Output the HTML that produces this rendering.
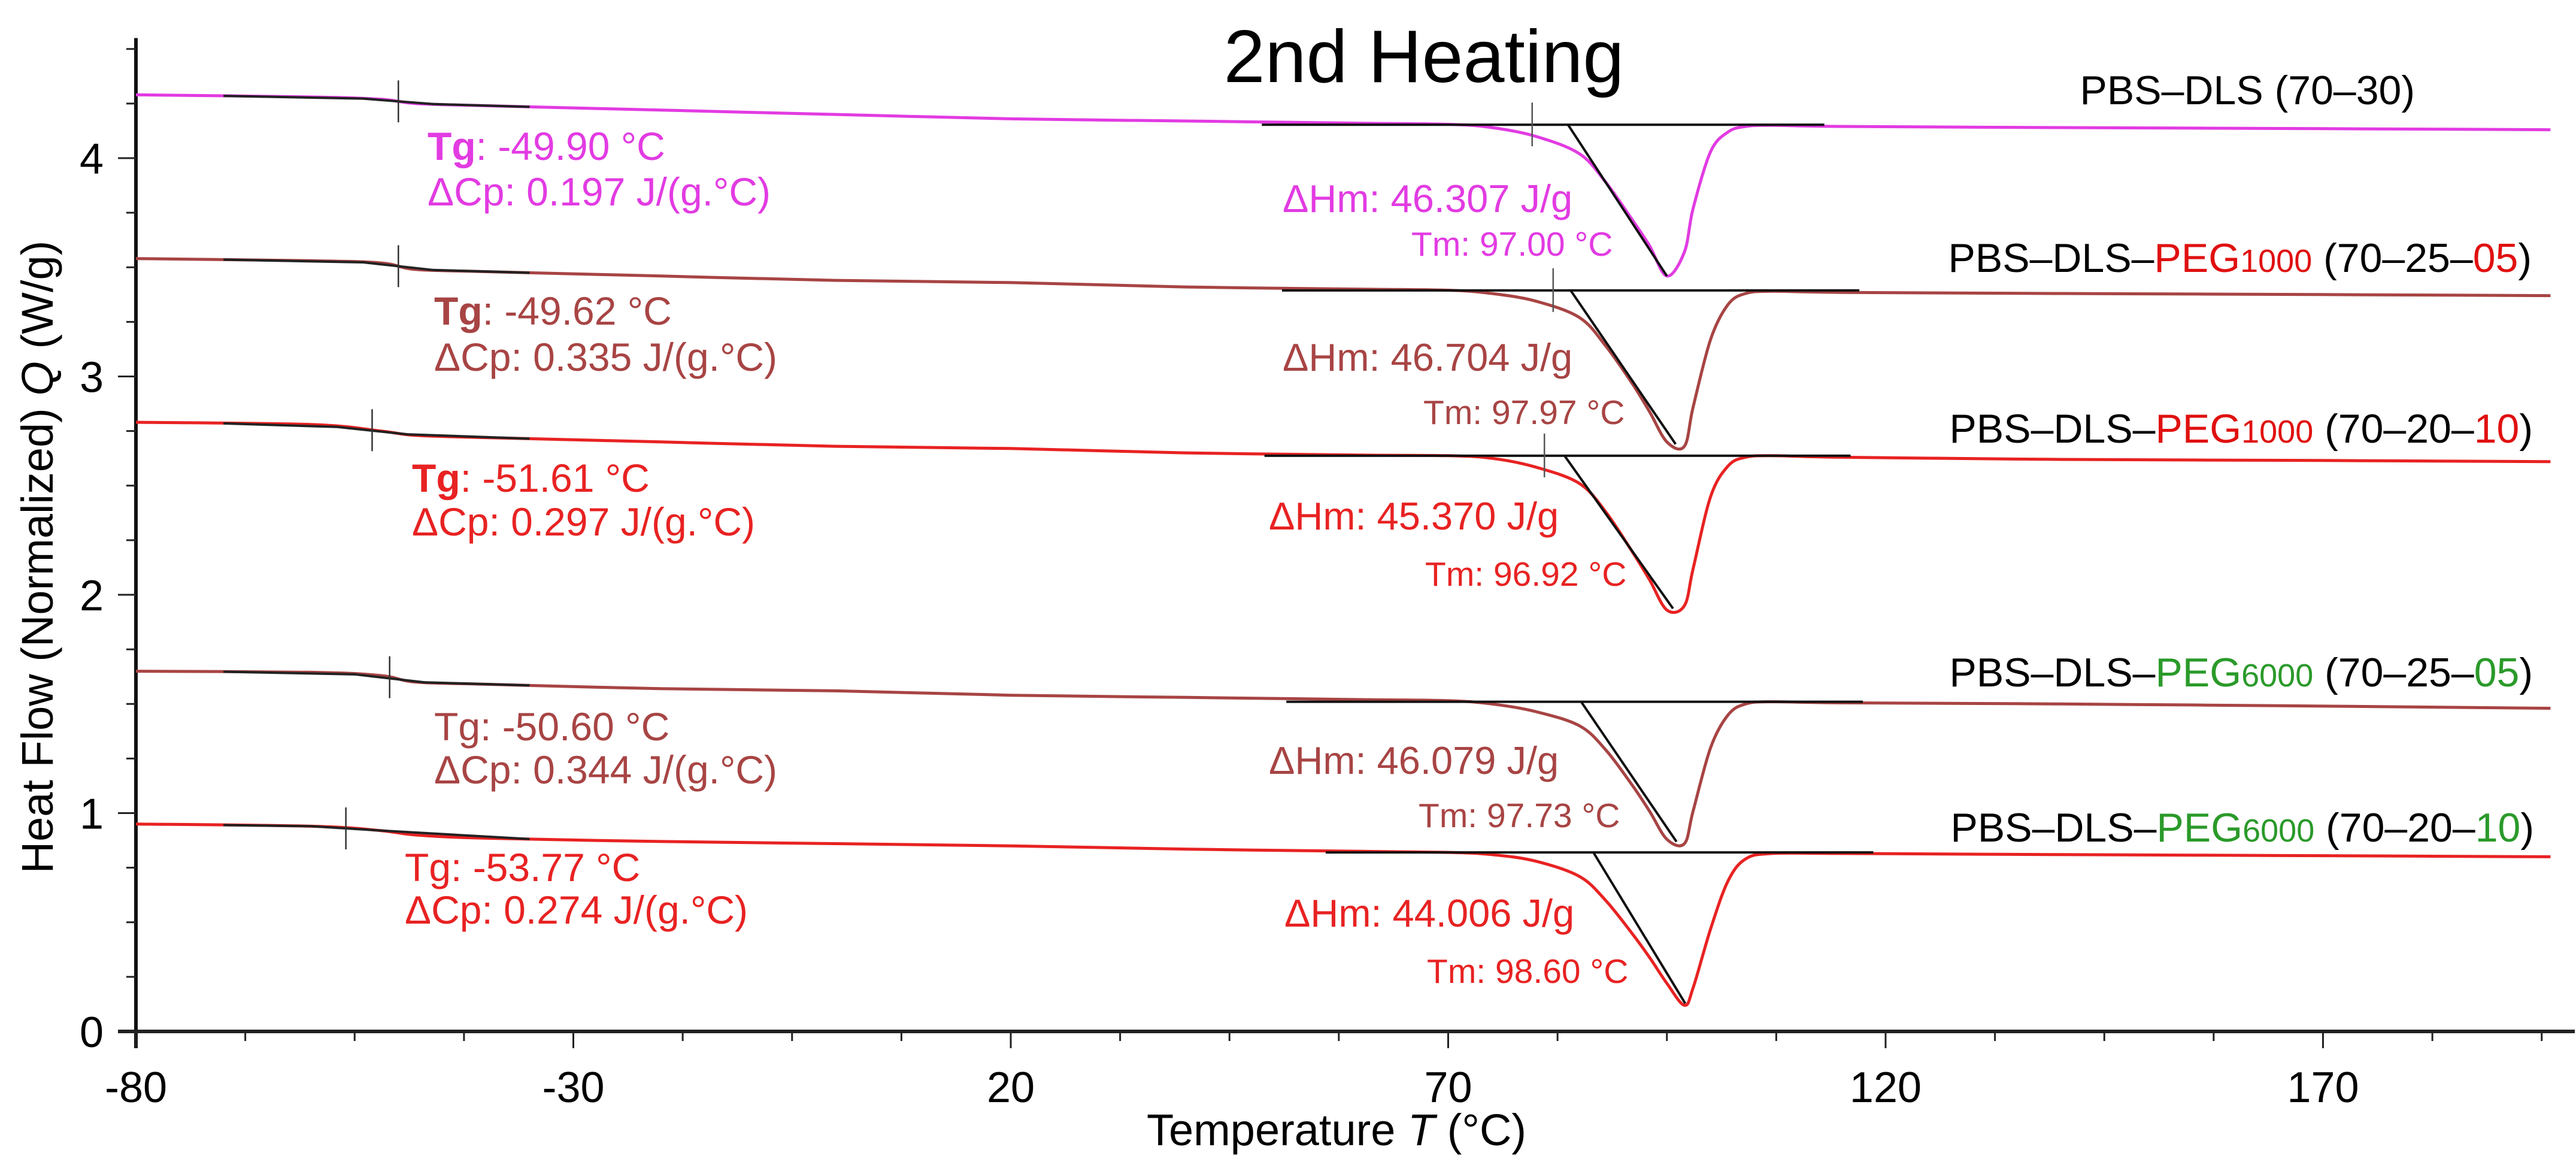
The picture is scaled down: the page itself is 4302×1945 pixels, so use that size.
<!DOCTYPE html>
<html><head><meta charset="utf-8"><style>
html,body{margin:0;padding:0;background:#fff;}
svg{display:block;font-family:"Liberation Sans",Arial,sans-serif;}
</style></head><body>
<svg id="chart" width="4302" height="1945" viewBox="0 0 4302 1945" xmlns="http://www.w3.org/2000/svg">
<text x="2378" y="137" font-size="124" text-anchor="middle">2nd Heating</text>
<g id="axes"></g>
<g id="curves"></g>
<g id="annots"></g>
<text x="1915" y="1912" font-size="74">Temperature <tspan font-style="italic">T</tspan> (°C)</text>
<text transform="translate(88,930) rotate(-90)" font-size="74" text-anchor="middle">Heat Flow (Normalized)  <tspan font-style="italic">Q</tspan>  (W/g)</text>
<g font-size="68">
<text x="4033" y="174" text-anchor="end">PBS–DLS (70–30)</text>
<text x="4228" y="454" text-anchor="end">PBS–DLS–<tspan fill="#e01010">PEG<tspan font-size="54">1000</tspan></tspan> (70–25–<tspan fill="#e01010">05</tspan>)</text>
<text x="4230" y="739" text-anchor="end">PBS–DLS–<tspan fill="#e01010">PEG<tspan font-size="54">1000</tspan></tspan> (70–20–<tspan fill="#e01010">10</tspan>)</text>
<text x="4230" y="1146" text-anchor="end">PBS–DLS–<tspan fill="#2a9a2a">PEG<tspan font-size="54">6000</tspan></tspan> (70–25–<tspan fill="#2a9a2a">05</tspan>)</text>
<text x="4232" y="1405" text-anchor="end">PBS–DLS–<tspan fill="#2a9a2a">PEG<tspan font-size="54">6000</tspan></tspan> (70–20–<tspan fill="#2a9a2a">10</tspan>)</text>
</g>
</svg>
<script>
// ---- data ----
const xTicks = [-80, -30, 20, 70, 120, 170];
const yTicks = [0, 1, 2, 3, 4];
const seriesNames = ['pbs-dls-70-30','peg1000-70-25-05','peg1000-70-20-10','peg6000-70-25-05','peg6000-70-20-10'];
const seriesColors = ['#e23be2','#a84444','#e82222','#a84444','#e82222'];
const temps = [-80,-60,-52,-48,-40,-20,0,20,40,60,70,75,80,85,88,91,93,95,97,98,100,102,104,107,115,140,170,196];
const s1 = [4.29,4.28,4.27,4.25,4.24,4.22,4.20,4.18,4.17,4.16,4.155,4.14,4.10,4.02,3.89,3.72,3.60,3.46,3.57,3.77,4.03,4.12,4.145,4.15,4.145,4.14,4.135,4.13];
const s2 = [3.54,3.53,3.52,3.49,3.48,3.46,3.44,3.43,3.41,3.40,3.395,3.38,3.345,3.27,3.14,2.97,2.84,2.70,2.68,2.86,3.17,3.33,3.38,3.39,3.385,3.38,3.375,3.37];
const s3 = [2.79,2.78,2.75,2.73,2.72,2.70,2.68,2.67,2.65,2.64,2.637,2.625,2.585,2.51,2.38,2.20,2.07,1.93,1.95,2.12,2.45,2.59,2.63,2.637,2.63,2.62,2.615,2.61];
const s4 = [1.65,1.645,1.63,1.60,1.59,1.57,1.56,1.54,1.53,1.52,1.515,1.50,1.465,1.40,1.29,1.13,1.01,0.88,0.86,1.01,1.30,1.45,1.50,1.51,1.505,1.50,1.49,1.48];
const s5 = [0.95,0.94,0.92,0.90,0.885,0.87,0.86,0.85,0.835,0.825,0.82,0.81,0.78,0.71,0.60,0.45,0.34,0.22,0.12,0.20,0.47,0.69,0.79,0.815,0.815,0.81,0.805,0.80];
const tgValues = [-50, -50, -53, -51, -56];
const tmValues = [95.0, 96.0, 95.7, 96.1, 97.1];
const baseStart = [48.7, 51, 49, 51.5, 56];
const baseEnd = [113, 117, 116, 117.4, 118.6];
const onsetT = [83.7, 84, 83.3, 85.2, 86.6];
const onsetMark = [79.6, 82, 81, null, null];
const baselineVals = [4.153, 3.394, 2.637, 1.51, 0.82];
const tgLabels = ['-49.90 °C','-49.62 °C','-51.61 °C','-50.60 °C','-53.77 °C'];
const cpLabels = ['0.197','0.335','0.297','0.344','0.274'];
const hmLabels = ['46.307','46.704','45.370','46.079','44.006'];
const tmLabels = ['97.00 °C','97.97 °C','96.92 °C','97.73 °C','98.60 °C'];
const allSeries = [s1, s2, s3, s4, s5];

// ---- scales ----
const X0 = 227, XPER = 14.61, Y0 = 1722, YPER = 364.5;
function xs(t){ return X0 + (t + 80) * XPER; }
function ys(v){ return Y0 - v * YPER; }
const NS = 'http://www.w3.org/2000/svg';
function mk(tag, attrs, parent){ const e = document.createElementNS(NS, tag); for (const k in attrs) e.setAttribute(k, attrs[k]); parent.appendChild(e); return e; }

const axes = document.getElementById('axes');
const curves = document.getElementById('curves');
const annots = document.getElementById('annots');

let l = mk('line', {x1:X0, y1:ys(4.55), x2:X0, y2:Y0+28, stroke:'#111', 'stroke-width':6}, axes);


l = mk('line', {x1:X0-30, y1:Y0, x2:4300, y2:Y0, stroke:'#222', 'stroke-width':6}, axes);


for (let t = -80; t <= 195; t += 12.5) {
  const major = xTicks.includes(t);
  const tk = mk('line', {x1:xs(t), y1:Y0, x2:xs(t), y2:Y0 + (major ? 28 : 16), stroke:'#222', 'stroke-width':3}, axes);
  
  
}
xTicks.forEach(t => {
  const tx = mk('text', {x:xs(t), y:1840, 'font-size':72, 'text-anchor':'middle'}, axes);
  tx.textContent = t;
  
  
});
for (let v = 0; v <= 4.5; v += 0.25) {
  const major = yTicks.includes(v);
  const tk = mk('line', {x1:X0 - (major ? 30 : 16), y1:ys(v), x2:X0, y2:ys(v), stroke:'#222', 'stroke-width':3}, axes);
  
  
}
yTicks.forEach(v => {
  const tx = mk('text', {x:153, y:ys(v) + 26, 'font-size':72, 'text-anchor':'middle'}, axes);
  tx.textContent = v;
  
  
});

function smoothPath(pts){
  let d = 'M' + pts[0][0].toFixed(1) + ',' + pts[0][1].toFixed(1);
  for (let i = 0; i < pts.length - 1; i++) {
    const p0 = pts[Math.max(0, i-1)], p1 = pts[i], p2 = pts[i+1], p3 = pts[Math.min(pts.length-1, i+2)];
    const c1x = p1[0] + (p2[0]-p0[0])/6, c1y = p1[1] + (p2[1]-p0[1])/6;
    const c2x = p2[0] - (p3[0]-p1[0])/6, c2y = p2[1] - (p3[1]-p1[1])/6;
    d += ' C' + c1x.toFixed(1) + ',' + c1y.toFixed(1) + ' ' + c2x.toFixed(1) + ',' + c2y.toFixed(1) + ' ' + p2[0].toFixed(1) + ',' + p2[1].toFixed(1);
  }
  return d;
}
function valAt(s, t){
  for (let i = 0; i < temps.length - 1; i++) if (t >= temps[i] && t <= temps[i+1]) {
    const f = (t - temps[i]) / (temps[i+1] - temps[i]); return s[i] + f * (s[i+1] - s[i]);
  }
  return s[s.length-1];
}

const tgX = [714, 725, 688, 725, 676];
const tgY = [267, 542, 821, 1236, 1471];
const cpY = [343, 619, 894, 1308, 1542];
const hmX = [2142, 2142, 2119, 2119, 2145];
const hmY = [354, 619, 884, 1292, 1547];
const tmX = [2357, 2377, 2380, 2369, 2383];
const tmY = [427, 708, 978, 1381, 1641];

allSeries.forEach((s, i) => {
  const pts = temps.map((t, j) => [xs(t), ys(s[j])]);
  const p = mk('path', {d:smoothPath(pts), fill:'none', stroke:seriesColors[i], 'stroke-width':5}, curves);
  
  
  const tg = tgValues[i];
  const g1 = mk('path', {d:'M' + xs(-70) + ',' + ys(valAt(s,-70)) + ' L' + xs(tg-4) + ',' + ys(valAt(s,tg-4)) + ' L' + xs(tg+4) + ',' + ys(valAt(s,tg+4)) + ' L' + xs(-35) + ',' + ys(valAt(s,-35)), fill:'none', stroke:'#222', 'stroke-width':4}, curves);
  
  
  const tgm = mk('line', {x1:xs(tg), y1:ys(valAt(s,tg)) - 35, x2:xs(tg), y2:ys(valAt(s,tg)) + 35, stroke:'#333', 'stroke-width':2.5}, curves);
  
  
  const b = baselineVals[i];
  const bl = mk('line', {x1:xs(baseStart[i]), y1:ys(b), x2:xs(baseEnd[i]), y2:ys(b), stroke:'#111', 'stroke-width':4}, curves);
  
  
  const minV = valAt(s, tmValues[i]);
  const tl = mk('line', {x1:xs(onsetT[i]), y1:ys(b), x2:xs(tmValues[i]), y2:ys(minV), stroke:'#111', 'stroke-width':4}, curves);
  
  
  if (onsetMark[i] !== null) {
    const om = mk('line', {x1:xs(onsetMark[i]), y1:ys(b) - 37, x2:xs(onsetMark[i]), y2:ys(b) + 36, stroke:'#555', 'stroke-width':2.5}, curves);
    
    
  }
  const c = seriesColors[i];
  const t1 = mk('text', {x:tgX[i], y:tgY[i], 'font-size':66, fill:c}, annots);
  t1.innerHTML = '<tspan font-weight="' + (i < 3 ? 'bold' : 'normal') + '">Tg</tspan>: ' + tgLabels[i];
  
  
  const t2 = mk('text', {x:tgX[i], y:cpY[i], 'font-size':66, fill:c}, annots);
  t2.textContent = 'ΔCp: ' + cpLabels[i] + ' J/(g.°C)';
  
  
  const t3 = mk('text', {x:hmX[i], y:hmY[i], 'font-size':65, fill:c}, annots);
  t3.textContent = 'ΔHm: ' + hmLabels[i] + ' J/g';
  
  
  const t4 = mk('text', {x:tmX[i], y:tmY[i], 'font-size':57, fill:c}, annots);
  t4.textContent = 'Tm: ' + tmLabels[i];
  
  
});
</script>
</body></html>
